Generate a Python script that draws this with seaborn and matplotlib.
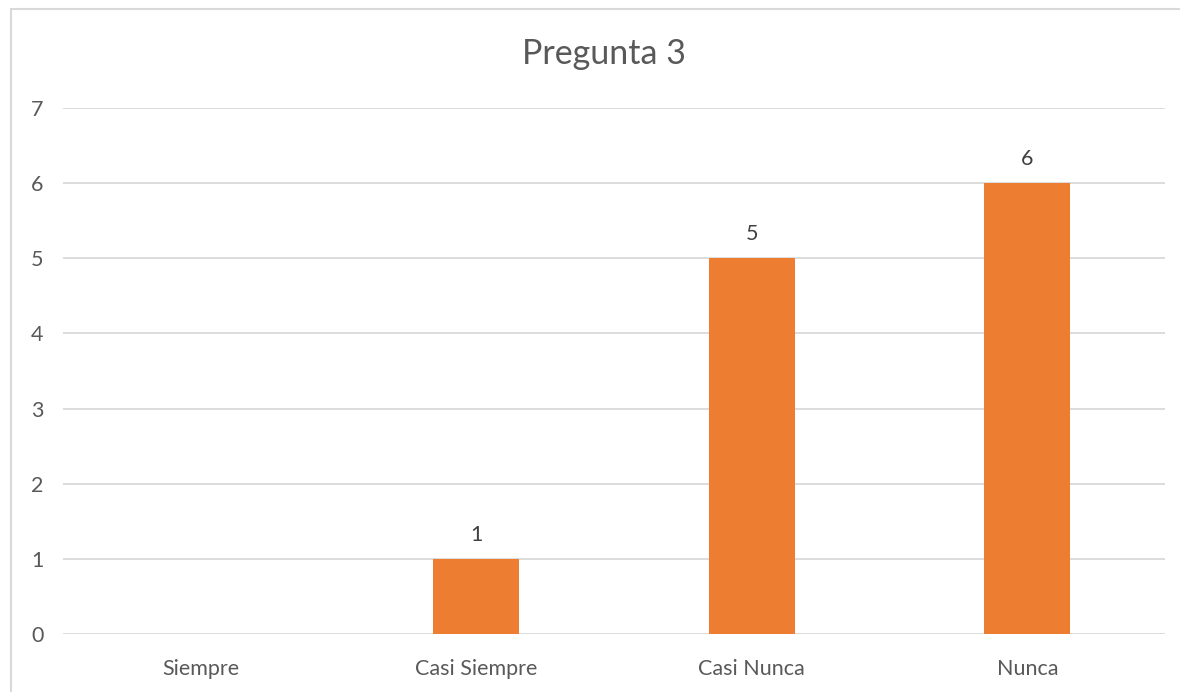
import pandas as pd
import seaborn as sns
from matplotlib import pyplot as plt
from matplotlib.patches import Rectangle

categorias = ["Siempre", "Casi Siempre", "Casi Nunca", "Nunca"]
valores = [0, 1, 5, 6]

df = pd.DataFrame({"categoria": categorias, "valor": valores})

sns.set_theme(style="white")
plt.rcParams["font.family"] = ["Lato", "DejaVu Sans"]

fig = plt.figure(figsize=(11.8, 6.92), dpi=100)
ax = fig.add_axes([0.0534, 0.0838, 0.9339, 0.7601])

sns.barplot(data=df, x="categoria", y="valor", color="#ED7D31", saturation=1,
            width=0.312, ax=ax, zorder=3, linewidth=0)

ax.set_ylim(0, 7)
ax.set_xlim(-0.5, 3.5)
ax.set_yticks(range(0, 8))
ax.grid(axis="y", color="#D9D9D9", linewidth=1.3, zorder=0)
for s in ax.spines.values():
    s.set_visible(False)
ax.tick_params(axis="both", length=0, labelsize=15.5, colors="#595959")
ax.tick_params(axis="y", pad=14)
ax.tick_params(axis="x", pad=18)
ax.set_xlabel("")
ax.set_ylabel("")

for i, v in enumerate(valores):
    if v > 0:
        ax.text(i, v + 0.19, str(v), ha="center", va="bottom",
                fontsize=15.5, color="#404040")

fig.text(604 / 1180, 0.922, "Pregunta 3", ha="center", va="center",
         fontsize=24.5, color="#595959")

fig.patches.append(Rectangle((11 / 1180, -0.1), 1.2, 1 - 9 / 692 + 0.1,
                             transform=fig.transFigure, fill=False,
                             edgecolor="#D9D9D9", linewidth=1.5))

fig.savefig("out.png", dpi=100)
